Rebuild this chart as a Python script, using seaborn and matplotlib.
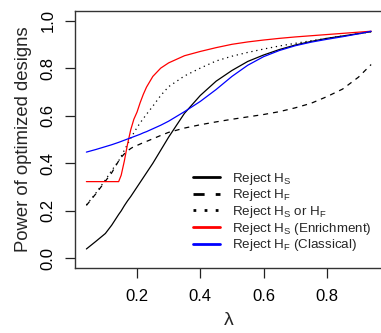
import numpy as np
import pandas as pd
import matplotlib
matplotlib.use("Agg")
import matplotlib.pyplot as plt
import seaborn as sns

# ---- data ----
lam = [0.04, 0.07, 0.10, 0.12, 0.142, 0.15, 0.16, 0.17, 0.18, 0.19, 0.20, 0.21, 0.22, 0.23,
       0.25, 0.275, 0.30, 0.35, 0.40, 0.45, 0.50, 0.55, 0.60, 0.65, 0.70, 0.75, 0.80, 0.85,
       0.90, 0.94]

reject_hs = [0.040, 0.072, 0.105, 0.140, 0.185, 0.200, 0.222, 0.242, 0.260, 0.280, 0.300,
             0.320, 0.340, 0.360, 0.400, 0.455, 0.510, 0.610, 0.685, 0.745, 0.790, 0.828,
             0.855, 0.878, 0.897, 0.912, 0.925, 0.935, 0.945, 0.953]
reject_hf = [0.223, 0.272, 0.325, 0.360, 0.410, 0.425, 0.440, 0.452, 0.462, 0.470, 0.475,
             0.481, 0.487, 0.492, 0.503, 0.517, 0.530, 0.548, 0.562, 0.574, 0.585, 0.595,
             0.605, 0.617, 0.633, 0.652, 0.680, 0.712, 0.762, 0.815]
reject_any = [0.225, 0.275, 0.330, 0.370, 0.410, 0.430, 0.455, 0.480, 0.505, 0.528, 0.550,
              0.570, 0.588, 0.606, 0.640, 0.685, 0.722, 0.767, 0.800, 0.830, 0.850, 0.866,
              0.880, 0.893, 0.904, 0.915, 0.925, 0.935, 0.944, 0.953]
reject_hs_enrich = [0.323, 0.323, 0.323, 0.323, 0.323, 0.350, 0.410, 0.480, 0.540, 0.585,
                    0.615, 0.655, 0.690, 0.720, 0.765, 0.800, 0.822, 0.852, 0.870, 0.886,
                    0.900, 0.910, 0.918, 0.925, 0.931, 0.936, 0.941, 0.946, 0.951, 0.955]
reject_hf_class = [0.447, 0.458, 0.470, 0.478, 0.488, 0.492, 0.497, 0.502, 0.507, 0.512,
                   0.517, 0.522, 0.528, 0.533, 0.545, 0.560, 0.577, 0.617, 0.660, 0.710,
                   0.765, 0.812, 0.848, 0.874, 0.894, 0.909, 0.921, 0.932, 0.944, 0.955]

labels = [r"Reject H$_\mathregular{S}$",
          r"Reject H$_\mathregular{F}$",
          r"Reject H$_\mathregular{S}$ or H$_\mathregular{F}$",
          r"Reject H$_\mathregular{S}$ (Enrichment)",
          r"Reject H$_\mathregular{F}$ (Classical)"]
series = [reject_hs, reject_hf, reject_any, reject_hs_enrich, reject_hf_class]
colors = ["black", "black", "black", "#FF0000", "#0000FF"]
dashes = [None, (4, 4), (1, 3), None, None]

x_ticks = [0.2, 0.4, 0.6, 0.8]
y_ticks = [0.0, 0.2, 0.4, 0.6, 0.8, 1.0]

sns.set_theme(style="white")
plt.rcParams["font.family"] = ["Liberation Sans", "DejaVu Sans"]
plt.rcParams["mathtext.fontset"] = "custom"
plt.rcParams["mathtext.rm"] = "Liberation Sans"
plt.rcParams["mathtext.it"] = "Liberation Sans:italic"
plt.rcParams["mathtext.bf"] = "Liberation Sans:bold"

fig = plt.figure(figsize=(3.81, 3.33), dpi=100)
ax = fig.add_axes([75 / 381, 65 / 333, (382.5 - 75) / 381, (268 - 11) / 333])

frames = []
for lab, vals in zip(labels, series):
    frames.append(pd.DataFrame({"lambda": lam, "power": vals, "series": lab}))
df = pd.concat(frames, ignore_index=True)

for lab, col, ds in zip(labels, colors, dashes):
    sub = df[df["series"] == lab]
    sns.lineplot(data=sub, x="lambda", y="power", ax=ax, color=col,
                 linewidth=0.9, estimator=None, sort=False, label=lab)
    line = ax.get_lines()[-1]
    if ds is not None:
        line.set_dashes(ds)

ax.set_xlim(0.004, 0.976)
ax.set_ylim(-0.04, 1.04)
ax.set_xticks(x_ticks)
ax.set_xticklabels([f"{t:.1f}" for t in x_ticks])
ax.set_yticks(y_ticks)
ax.set_yticklabels([f"{t:.1f}" for t in y_ticks], rotation=90, va="center")
ax.tick_params(axis="both", which="major", direction="out", length=7, width=0.9,
               color="#222222", labelsize=12, labelcolor="black", left=True, bottom=True)
ax.tick_params(axis="x", pad=8)
ax.tick_params(axis="y", pad=7)
for sp in ax.spines.values():
    sp.set_color("#333333")
    sp.set_linewidth(1.0)

ax.set_xlabel("λ", fontsize=14, labelpad=6)
ax.set_ylabel("Power of optimized designs", fontsize=13.3, labelpad=6)

leg = ax.legend(loc="upper left", bbox_to_anchor=(0.367, 0.40), frameon=False,
                fontsize=9.6, handlelength=2.0, handletextpad=0.9, labelspacing=0.05,
                borderaxespad=0)
for h in leg.get_lines():
    h.set_linewidth(2.0)

fig.savefig("out.png", dpi=100)
